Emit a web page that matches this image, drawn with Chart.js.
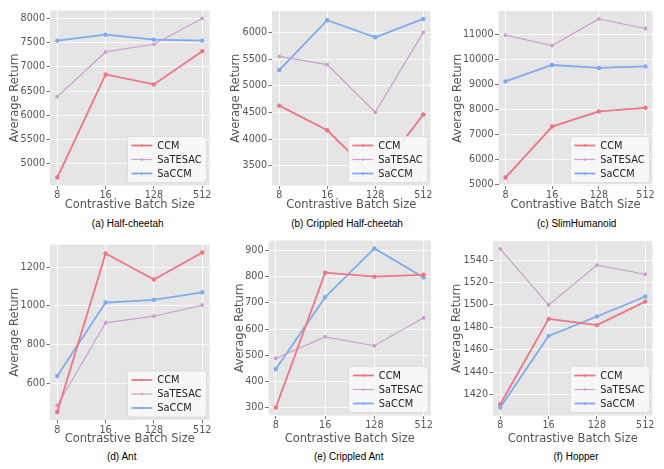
<!DOCTYPE html>
<html>
<head>
<meta charset="utf-8">
<script src="https://cdn.jsdelivr.net/npm/chart.js@4"></script>
<style>
  body { margin: 0; width: 664px; height: 469px; background: #fff; position: relative; overflow: hidden; }
  canvas { position: absolute; }
  .caption {
    position: absolute; transform: translateX(-50%); white-space: nowrap;
    font-family: "Liberation Sans", Arial, sans-serif; font-size: 10px; line-height: 12px; color: #000;
  }
</style>
</head>
<body>
<script>
const categories = ["8", "16", "128", "512"];
const seriesNames = ["CCM", "SaTESAC", "SaCCM"];
const seriesColors = ["#f07482", "#cc9fcf", "#7eaaf2"];

// (a) Half-cheetah
const halfCheetahCCM = [4712, 6842, 6637, 7322];
const halfCheetahSaTESAC = [6384, 7308, 7466, 8000];
const halfCheetahSaCCM = [7541, 7664, 7562, 7541];
const halfCheetahTicks = [5000, 5500, 6000, 6500, 7000, 7500, 8000];

// (b) Crippled Half-cheetah
const crippledCheetahCCM = [4627, 4165, 3278, 4461];
const crippledCheetahSaTESAC = [5550, 5397, 4503, 6000];
const crippledCheetahSaCCM = [5292, 6228, 5908, 6252];
const crippledCheetahTicks = [3500, 4000, 4500, 5000, 5500, 6000];

// (c) SlimHumanoid
const humanoidCCM = [5276, 7311, 7915, 8059];
const humanoidSaTESAC = [10961, 10540, 11604, 11223];
const humanoidSaCCM = [9110, 9766, 9648, 9713];
const humanoidTicks = [5000, 6000, 7000, 8000, 9000, 10000, 11000];

// (d) Ant
const antCCM = [451, 1272, 1137, 1277];
const antSaTESAC = [485, 913, 947, 1004];
const antSaCCM = [638, 1018, 1032, 1071];
const antTicks = [600, 800, 1000, 1200];

// (e) Crippled Ant
const crippledAntCCM = [299, 816, 801, 808];
const crippledAntSaTESAC = [488, 570, 536, 643];
const crippledAntSaCCM = [447, 722, 909, 798];
const crippledAntTicks = [300, 400, 500, 600, 700, 800, 900];

// (f) Hopper
const hopperCCM = [1411.5, 1487.6, 1482, 1503];
const hopperSaTESAC = [1550, 1500, 1535.6, 1527.4];
const hopperSaCCM = [1408.5, 1472.4, 1489.7, 1507.6];
const hopperTicks = [1420, 1440, 1460, 1480, 1500, 1520, 1540];

// canvas box, plot area and title centres for each panel (page pixels)
const panels = [
  { caption: "(a) Half-cheetah", series: [halfCheetahCCM, halfCheetahSaTESAC, halfCheetahSaCCM], ticks: halfCheetahTicks,
    box: { x: 0, y: 0, w: 221, h: 215 }, area: { l: 50, t: 10.5, r: 209.5, b: 185.5 }, yTitle: 14.7, xTitle: 204.7, cap: { x: 127.7, y: 223.7 } },
  { caption: "(b) Crippled Half-cheetah", series: [crippledCheetahCCM, crippledCheetahSaTESAC, crippledCheetahSaCCM], ticks: crippledCheetahTicks,
    box: { x: 221, y: 0, w: 221, h: 215 }, area: { l: 272, t: 11, r: 430.5, b: 185.5 }, yTitle: 236.3, xTitle: 204.7, cap: { x: 347, y: 223.7 } },
  { caption: "(c) SlimHumanoid", series: [humanoidCCM, humanoidSaTESAC, humanoidSaCCM], ticks: humanoidTicks,
    box: { x: 442, y: 0, w: 222, h: 215 }, area: { l: 498.5, t: 11, r: 652.5, b: 185.5 }, yTitle: 457.8, xTitle: 204.7, cap: { x: 576.7, y: 223.7 } },
  { caption: "(d) Ant", series: [antCCM, antSaTESAC, antSaCCM], ticks: antTicks,
    box: { x: 0, y: 232, w: 221, h: 215 }, area: { l: 50, t: 244.5, r: 209.5, b: 420 }, yTitle: 15, xTitle: 439, cap: { x: 121.7, y: 457 } },
  { caption: "(e) Crippled Ant", series: [crippledAntCCM, crippledAntSaTESAC, crippledAntSaCCM], ticks: crippledAntTicks,
    box: { x: 221, y: 232, w: 221, h: 215 }, area: { l: 268.5, t: 240.5, r: 431, b: 415.5 }, yTitle: 239.7, xTitle: 439, cap: { x: 348.7, y: 457 } },
  { caption: "(f) Hopper", series: [hopperCCM, hopperSaTESAC, hopperSaCCM], ticks: hopperTicks,
    box: { x: 442, y: 232, w: 222, h: 215 }, area: { l: 493, t: 241, r: 652.5, b: 415.5 }, yTitle: 457.3, xTitle: 439, cap: { x: 576, y: 457 } }
];

const tickFont = { family: "DejaVu Sans", size: 9.6 };
const titleFont = { family: "DejaVu Sans", size: 11.5 };

// grey ggplot panel behind the grid
const panelBackground = {
  id: "panelBackground",
  beforeDraw(chart) {
    const { ctx, chartArea: a } = chart;
    ctx.save();
    ctx.fillStyle = "#e5e5e5";
    ctx.fillRect(a.left, a.top, a.right - a.left, a.bottom - a.top);
    ctx.restore();
  }
};

// legend box inside the lower right corner of the plot
const innerLegend = {
  id: "innerLegend",
  afterDraw(chart) {
    const { ctx, chartArea: a } = chart;
    const sets = chart.data.datasets;
    ctx.save();
    ctx.font = "9.8px 'DejaVu Sans'";
    const textW = Math.max(...sets.map(d => ctx.measureText(d.label).width));
    const w = 30 + textW + 5, h = 46;
    const x = a.right - 3 - w, y = a.bottom - 3 - h;
    ctx.fillStyle = "rgba(249,249,249,0.92)";
    ctx.strokeStyle = "#d8d8d8";
    ctx.lineWidth = 0.8;
    ctx.beginPath();
    ctx.roundRect(x, y, w, h, 3);
    ctx.fill();
    ctx.stroke();
    sets.forEach((d, i) => {
      const ry = y + 9 + i * 14;
      ctx.strokeStyle = d.borderColor;
      ctx.lineWidth = d.borderWidth;
      ctx.beginPath();
      ctx.moveTo(x + 4, ry);
      ctx.lineTo(x + 25, ry);
      ctx.stroke();
      ctx.fillStyle = d.borderColor;
      ctx.beginPath();
      ctx.arc(x + 14.5, ry, 1.3, 0, Math.PI * 2);
      ctx.fill();
      ctx.fillStyle = "#222";
      ctx.textBaseline = "middle";
      ctx.fillText(d.label, x + 30, ry + 0.5);
    });
    ctx.restore();
  }
};

function makeChart(p) {
  const canvas = document.createElement("canvas");
  canvas.width = p.box.w;
  canvas.height = p.box.h;
  canvas.style.left = p.box.x + "px";
  canvas.style.top = p.box.y + "px";
  canvas.style.width = p.box.w + "px";
  canvas.style.height = p.box.h + "px";
  document.body.appendChild(canvas);

  const all = p.series.flat();
  const lo = Math.min(...all), hi = Math.max(...all);
  const margin = (hi - lo) * 0.05;
  const half = titleFont.size * 1.2 / 2;

  new Chart(canvas, {
    type: "line",
    data: {
      datasets: p.series.map((vals, i) => ({
        label: seriesNames[i],
        data: vals.map((v, j) => ({ x: j, y: v })),
        borderColor: seriesColors[i],
        backgroundColor: seriesColors[i],
        borderWidth: i === 1 ? 1.2 : 1.8,
        pointRadius: 1.3,
        pointHoverRadius: 1.3,
        tension: 0
      }))
    },
    options: {
      responsive: false,
      animation: false,
      events: [],
      layout: { padding: { top: p.area.t - p.box.y, right: p.box.x + p.box.w - p.area.r, left: 0, bottom: 0 } },
      plugins: { legend: { display: false }, tooltip: { enabled: false } },
      scales: {
        x: {
          type: "linear",
          min: -0.15,
          max: 3.15,
          afterBuildTicks: s => { s.ticks = categories.map((c, j) => ({ value: j })); },
          afterFit: s => { s.height = p.box.y + p.box.h - p.area.b; },
          ticks: { callback: v => categories[v], font: tickFont, color: "#555", padding: 1, maxRotation: 0 },
          grid: { color: "#fff", lineWidth: 0.8, tickColor: "#555", tickLength: 3.5 },
          border: { display: false },
          title: { display: true, text: "Contrastive Batch Size", font: titleFont, color: "#555",
                   padding: { top: 0, bottom: p.box.y + p.box.h - p.xTitle - half } }
        },
        y: {
          min: lo - margin,
          max: hi + margin,
          afterBuildTicks: s => { s.ticks = p.ticks.map(v => ({ value: v })); },
          afterFit: s => { s.width = p.area.l - p.box.x; },
          ticks: { callback: v => String(v), font: tickFont, color: "#555", padding: 1.5 },
          grid: { color: "#fff", lineWidth: 0.8, tickColor: "#555", tickLength: 3.5 },
          border: { display: false },
          title: { display: true, text: "Average Return", font: titleFont, color: "#555",
                   padding: { top: p.yTitle - p.box.x - half, bottom: 0 } }
        }
      }
    },
    plugins: [panelBackground, innerLegend]
  });

  const cap = document.createElement("div");
  cap.className = "caption";
  cap.textContent = p.caption;
  cap.style.left = p.cap.x + "px";
  cap.style.top = (p.cap.y - 6) + "px";
  document.body.appendChild(cap);
}

panels.forEach(makeChart);
</script>
</body>
</html>
